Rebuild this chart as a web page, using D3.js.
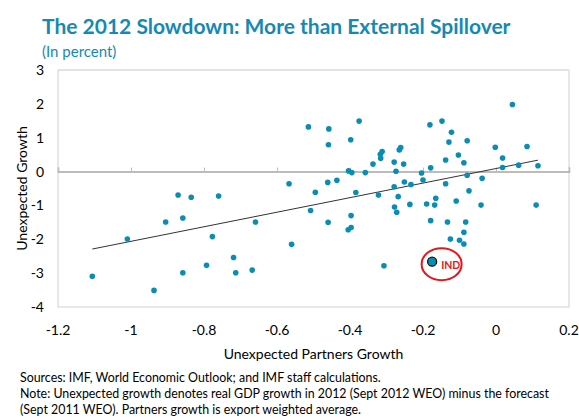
<!DOCTYPE html>
<html>
<head>
<meta charset="utf-8">
<script src="https://cdn.jsdelivr.net/npm/d3@7"></script>
<style>
  html, body { margin: 0; padding: 0; background: #ffffff; }
  svg { display: block; }
  text { font-family: Lato, "Open Sans", sans-serif; }
</style>
</head>
<body>
<svg id="chart" width="579" height="419"></svg>
<script>
// Unexpected growth of trading partners (x) vs. unexpected own growth (y), in percent
const partnersGrowth = [
  -1.106, -1.010, -0.937, -0.905, -0.871, -0.858, -0.858, -0.835, -0.793, -0.777,
  -0.760, -0.719, -0.713, -0.668, -0.659, -0.567, -0.560, -0.514, -0.508, -0.495,
  -0.461, -0.460, -0.459, -0.458, -0.436, -0.405, -0.397, -0.397, -0.404, -0.395,
  -0.398, -0.384, -0.375, -0.358, -0.337, -0.322, -0.312, -0.317, -0.316, -0.307,
  -0.279, -0.274, -0.279, -0.268, -0.278, -0.272, -0.261, -0.265, -0.253, -0.251,
  -0.236, -0.233, -0.204, -0.200, -0.190, -0.181, -0.179, -0.179, -0.168, -0.165,
  -0.148, -0.138, -0.138, -0.133, -0.129, -0.125, -0.122, -0.109, -0.103, -0.100,
  -0.088, -0.088, -0.088, -0.083, -0.079, -0.079, -0.074, -0.041, -0.038, -0.002,
   0.018,  0.018,  0.045,  0.062,  0.085,  0.110,  0.115
];
const unexpectedGrowth = [
  -3.09, -1.99, -3.51, -1.49, -0.69, -1.37, -2.99, -0.76, -2.77, -1.92,
  -0.72, -2.54, -2.99, -2.91, -1.49, -0.36, -2.15,  1.32, -1.15, -0.61,
  -0.32, -1.50,  0.79,  1.26, -0.26, -1.72, -1.65, -1.30,  0.02, -0.03,
   0.94, -0.62,  1.49, -0.03,  0.22, -0.69,  0.59,  0.51,  0.39, -2.78,
   0.28,  0.01, -0.45, -0.74, -1.05, -1.20,  0.71,  0.64,  0.22, -0.31,
  -0.97, -0.38, -0.04, -0.25, -0.96,  1.38,  0.11, -1.45, -0.99, -0.79,
   1.49, -0.36,  0.34, -1.49,  0.87, -1.99,  1.16, -0.87,  0.49, -2.03,
   0.26, -1.79, -2.14, -1.49,  0.91, -0.11, -0.57, -0.99, -0.20,  0.72,
   0.40,  0.12,  1.98,  0.19,  0.74, -0.99,  0.17
];

// India, highlighted
const highlightLabel = "IND";
const highlightPartners = -0.175;
const highlightGrowth = -2.66;

// Linear fit through the cloud
const trendSlope = 2.15;
const trendIntercept = 0.09;
const trendFrom = -1.106;
const trendTo = 0.115;

const xTicks = [-1.2, -1.0, -0.8, -0.6, -0.4, -0.2, 0, 0.2];
const yTicks = [3, 2, 1, 0, -1, -2, -3, -4];

const titleText = "The 2012 Slowdown: More than External Spillover";
const subtitleText = "(In percent)";
const xTitle = "Unexpected Partners Growth";
const yTitle = "Unexpected Growth";
const notes = [
  "Sources: IMF, World Economic Outlook; and IMF staff calculations.",
  "Note: Unexpected growth denotes real GDP growth in 2012 (Sept 2012 WEO) minus the forecast",
  "(Sept 2011 WEO). Partners growth is export weighted average."
];

const blue = "#1489b4";
const dotColor = "#0a8db4";

const svg = d3.select("#chart");
const plot = { left: 58, right: 569, top: 70, bottom: 307 };

const x = d3.scaleLinear().domain([-1.2, 0.2]).range([plot.left, plot.right]);
const y = d3.scaleLinear().domain([-4, 3]).range([plot.bottom, plot.top]);

// Title block
svg.append("text")
  .attr("x", 42).attr("y", 34)
  .attr("fill", blue)
  .attr("font-size", 21).attr("font-weight", "bold")
  .text(titleText);
svg.append("text")
  .attr("x", 42).attr("y", 57)
  .attr("fill", blue)
  .attr("font-size", 15)
  .text(subtitleText);

// Plot frame
svg.append("rect")
  .attr("x", plot.left).attr("y", plot.top)
  .attr("width", plot.right - plot.left).attr("height", plot.bottom - plot.top)
  .attr("fill", "none").attr("stroke", "#d0d0d0").attr("stroke-width", 1);
svg.append("line")
  .attr("x1", plot.left).attr("x2", plot.right)
  .attr("y1", plot.top).attr("y2", plot.top)
  .attr("stroke", "#e2e2e2").attr("stroke-width", 2);

// Horizontal axis drawn along y = 0, ticks pointing up
const xAxis = d3.axisTop(x).tickValues(xTicks).tickSize(4).tickFormat("");
const gx = svg.append("g")
  .attr("transform", `translate(0,${y(0)})`)
  .call(xAxis);
gx.select(".domain").attr("stroke", "#a6a6a6").attr("stroke-width", 1.5);
gx.selectAll(".tick line").attr("stroke", "#bdbdbd");

// Tick labels below the frame (plain hyphen for negatives)
svg.append("g").selectAll("text")
  .data(xTicks).join("text")
  .attr("x", d => x(d)).attr("y", 335)
  .attr("text-anchor", "middle")
  .attr("font-size", 14).attr("fill", "#000")
  .text(d => String(d));

svg.append("g").selectAll("text")
  .data(yTicks).join("text")
  .attr("x", 44).attr("y", d => y(d) + 5)
  .attr("text-anchor", "end")
  .attr("font-size", 14).attr("fill", "#000")
  .text(d => String(d));

// Axis titles
svg.append("text")
  .attr("x", (plot.left + plot.right) / 2).attr("y", 359)
  .attr("text-anchor", "middle")
  .attr("font-size", 14).attr("fill", "#000")
  .text(xTitle);
svg.append("text")
  .attr("transform", `translate(27,${(plot.top + plot.bottom) / 2}) rotate(-90)`)
  .attr("text-anchor", "middle")
  .attr("font-size", 14).attr("fill", "#000")
  .text(yTitle);

// Trend line
svg.append("line")
  .attr("x1", x(trendFrom)).attr("y1", y(trendIntercept + trendSlope * trendFrom))
  .attr("x2", x(trendTo)).attr("y2", y(trendIntercept + trendSlope * trendTo))
  .attr("stroke", "#333").attr("stroke-width", 1);

// Scatter points
const points = partnersGrowth.map((v, i) => ({ px: v, gy: unexpectedGrowth[i] }));
svg.append("g").selectAll("circle")
  .data(points).join("circle")
  .attr("cx", d => x(d.px)).attr("cy", d => y(d.gy))
  .attr("r", 2.8)
  .attr("fill", dotColor);

// Highlighted economy
const hx = x(highlightPartners), hy = y(highlightGrowth);
svg.append("ellipse")
  .attr("cx", hx + 9.5).attr("cy", hy + 2.5)
  .attr("rx", 20).attr("ry", 16)
  .attr("fill", "none").attr("stroke", "#e8141b").attr("stroke-width", 2);
svg.append("circle")
  .attr("cx", hx).attr("cy", hy).attr("r", 4.5)
  .attr("fill", dotColor).attr("stroke", "#111").attr("stroke-width", 1.3);
svg.append("text")
  .attr("x", hx + 9).attr("y", hy + 7)
  .attr("font-size", 10.5).attr("font-weight", "bold")
  .attr("fill", "#e8141b")
  .text(highlightLabel);

// Footnotes
svg.append("g").selectAll("text")
  .data(notes).join("text")
  .attr("x", 20).attr("y", (d, i) => 382 + i * 16)
  .attr("font-size", 12.4).attr("fill", "#000")
  .text(d => d);
</script>
</body>
</html>
